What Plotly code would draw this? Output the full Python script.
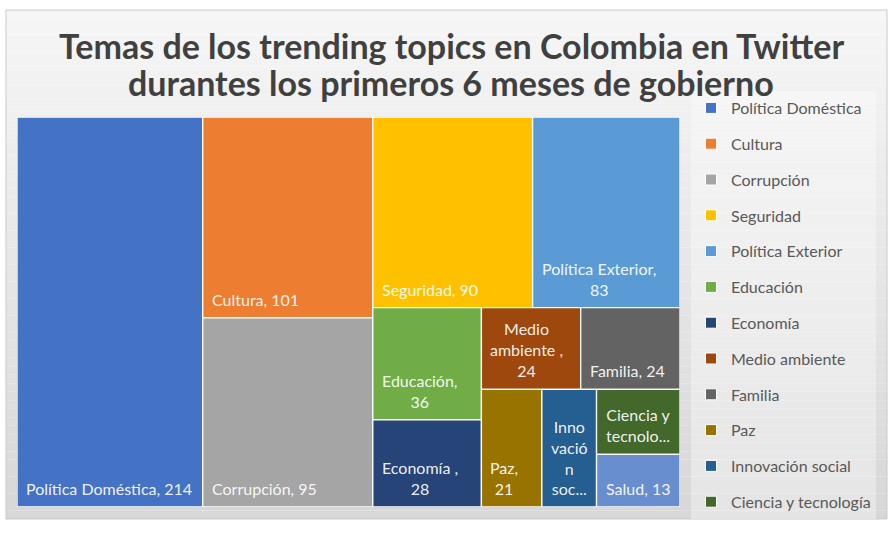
import plotly.graph_objects as go

# ---------------- data ----------------
categories = ["Política Doméstica", "Cultura", "Corrupción", "Seguridad", "Política Exterior",
              "Educación", "Economía", "Medio ambiente", "Familia", "Paz",
              "Innovación social", "Ciencia y tecnología", "Salud"]
values = [214, 101, 95, 90, 83, 36, 28, 24, 24, 21, 19, 16, 13]
colors = ["#4472C4", "#ED7D31", "#A5A5A5", "#FFC000", "#5B9BD5",
          "#70AD47", "#264478", "#9E480E", "#636363", "#997300",
          "#255E91", "#43682B", "#698ED0"]
# data-label text as wrapped in the original ({v} = value)
label_fmt = ["Política Doméstica, {v}", "Cultura, {v}", "Corrupción, {v}", "Seguridad, {v}",
             "Política Exterior,<br>{v}", "Educación,<br>{v}", "Economía ,<br>{v}",
             "Medio<br>ambiente ,<br>{v}", "Familia, {v}", "Paz,<br>{v}",
             "Inno<br>vació<br>n<br>soc...", "Ciencia y<br>tecnolo...", "Salud, {v}"]
legend_hidden = ["Salud"]  # clipped out of the legend in the original
title_lines = ["Temas de los trending topics en Colombia en Twitter",
               "durantes los primeros 6 meses de gobierno"]

# layout tree of the treemap (h = side by side, v = stacked)
tree = ("h", ["Política Doméstica",
              ("v", ["Cultura", "Corrupción"]),
              ("v", [("h", ["Seguridad", "Política Exterior"]),
                     ("h", [("v", ["Educación", "Economía"]),
                            ("v", [("h", ["Medio ambiente", "Familia"]),
                                   ("h", ["Paz", "Innovación social",
                                          ("v", ["Ciencia y tecnología", "Salud"])])])])])])

# ---------------- geometry ----------------
FW, FH = 888, 533
ML, MR, MT, MB = 17, 208, 117, 26
W, H = FW - ML - MR, FH - MT - MB

val = dict(zip(categories, values))


def total(node):
    return val[node] if isinstance(node, str) else sum(total(c) for c in node[1])


rects = {}


def place(node, x0, y0, x1, y1):
    if isinstance(node, str):
        rects[node] = (x0, y0, x1, y1)
        return
    orient, kids = node
    s = total(node)
    pos = x0 if orient == "h" else y0
    for k in kids:
        f = total(k) / s
        if orient == "h":
            w = (x1 - x0) * f
            place(k, pos, y0, pos + w, y1)
            pos += w
        else:
            h = (y1 - y0) * f
            place(k, x0, pos, x1, pos + h)
            pos += h


place(tree, 0, 0, W, H)

fig = go.Figure()
FONT = "Lato, Calibri, Open Sans, sans-serif"

for cat, v, c in zip(categories, values, colors):
    x0, y0, x1, y1 = rects[cat]
    fig.add_trace(go.Scatter(
        x=[x0, x1, x1, x0, x0], y=[y0, y0, y1, y1, y0],
        mode="lines", fill="toself", fillcolor=c,
        line=dict(color="white", width=1.3),
        name=cat, showlegend=False, hoverinfo="text",
        text=f"{cat}, {v}", hoveron="fills"))

for cat, c in zip(categories, colors):
    if cat in legend_hidden:
        continue
    fig.add_trace(go.Scatter(
        x=[None], y=[None], mode="markers", name=cat, legendgroup=cat,
        marker=dict(symbol="square", size=11, color=c, line=dict(color="white", width=1)),
        showlegend=True))


def px2x(px):
    return (px - ML) / W


def px2y(py):
    return (FH - MB - py) / H


annotations = []
for cat, v, fmt in zip(categories, values, label_fmt):
    x0, y0, x1, y1 = rects[cat]
    annotations.append(dict(
        x=x0, y=y1, xref="x", yref="y", xanchor="left", yanchor="bottom",
        xshift=7, yshift=7, showarrow=False, align="center",
        text=fmt.format(v=v),
        font=dict(family=FONT, size=16, color="rgba(255,255,255,0.93)")))

for i, line in enumerate(title_lines):
    annotations.append(dict(
        x=px2x(451), y=px2y(46 + 36 * i), xref="paper", yref="paper",
        xanchor="center", yanchor="middle", showarrow=False, text=line,
        font=dict(family=FONT, size=34, color="#404040", weight="bold")))

# background gradient + border (in paper units relative to plot area)
shapes = []
top_px, bot_px, left_px, right_px = 10, 519, 6, 887
n = 60
c_top, c_bot = 246, 215
for i in range(n):
    a = top_px + (bot_px - top_px) * i / n
    b = top_px + (bot_px - top_px) * (i + 1) / n
    g = round(c_top + (c_bot - c_top) * (i + 0.5) / n)
    shapes.append(dict(type="rect", xref="paper", yref="paper", layer="below",
                       x0=px2x(left_px), x1=px2x(right_px), y0=px2y(b), y1=px2y(a),
                       fillcolor=f"rgb({g},{g},{g})", line=dict(width=0)))
shapes.append(dict(type="rect", xref="paper", yref="paper", layer="below",
                   x0=px2x(left_px), x1=px2x(right_px), y0=px2y(bot_px), y1=px2y(top_px),
                   fillcolor="rgba(0,0,0,0)", line=dict(color="#c9c9c9", width=1)))

fig.update_layout(
    width=FW, height=FH,
    margin=dict(l=ML, r=MR, t=MT, b=MB, autoexpand=False),
    paper_bgcolor="white", plot_bgcolor="rgba(0,0,0,0)",
    xaxis=dict(range=[0, W], visible=False, fixedrange=True),
    yaxis=dict(range=[H, 0], visible=False, fixedrange=True),
    showlegend=True,
    legend=dict(x=px2x(691), xanchor="left", y=px2y(91), yanchor="top",
                bgcolor="rgba(255,255,255,0.35)", borderwidth=0,
                font=dict(family=FONT, size=16, color="#595959"),
                tracegroupgap=12, itemclick=False, itemdoubleclick=False,
                maxheight=600, entrywidth=190),
    annotations=annotations, shapes=shapes,
    hovermode="closest",
)

fig.write_html("out.html")
